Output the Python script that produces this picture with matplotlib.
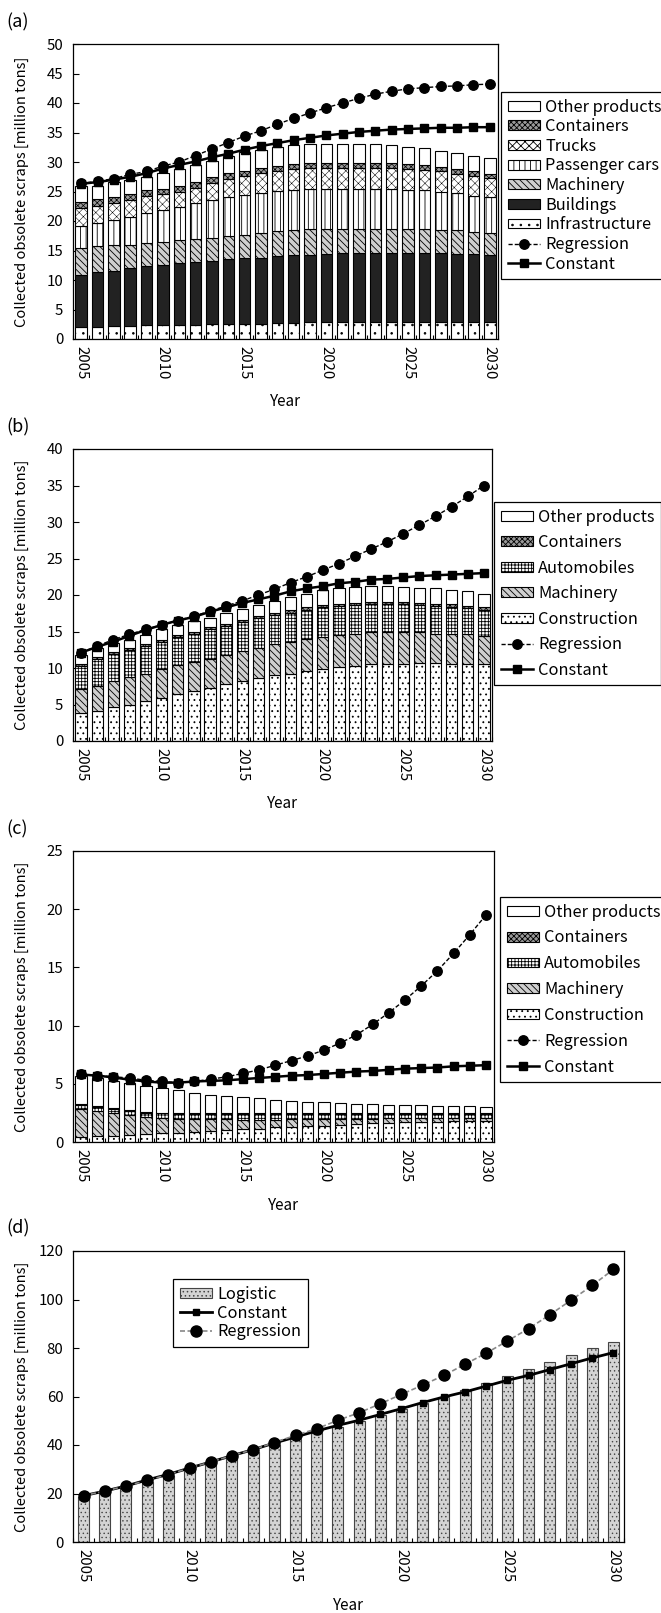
import numpy as np
import matplotlib
matplotlib.use('Agg')
import matplotlib.pyplot as plt
from matplotlib.patches import Patch
from matplotlib.lines import Line2D

plt.rcParams['font.family'] = ['Noto Sans CJK JP', 'DejaVu Sans']
plt.rcParams['hatch.linewidth'] = 0.6

years = list(range(2005, 2031))
year_labels = ['2005', '2010', '2015', '2020', '2025', '2030']

# ---------------- panel (a) ----------------
a_infrastructure = [2.1, 2.1, 2.2, 2.2, 2.3, 2.3, 2.4, 2.4, 2.5, 2.5, 2.6, 2.6, 2.7, 2.7, 2.8, 2.8, 2.8, 2.9, 2.9, 2.9, 2.9, 2.9, 2.9, 2.9, 2.9, 2.9]
a_buildings = [8.8, 9.2, 9.4, 9.8, 10.0, 10.2, 10.4, 10.6, 10.8, 11.0, 11.1, 11.2, 11.3, 11.5, 11.5, 11.6, 11.7, 11.6, 11.6, 11.6, 11.6, 11.6, 11.6, 11.5, 11.5, 11.4]
a_machinery = [4.6, 4.5, 4.3, 4.0, 3.9, 3.9, 3.9, 3.9, 3.9, 4.0, 4.0, 4.2, 4.3, 4.2, 4.3, 4.2, 4.2, 4.2, 4.2, 4.2, 4.1, 4.1, 4.0, 4.0, 3.8, 3.7]
a_passenger = [3.7, 3.8, 4.3, 4.7, 5.1, 5.5, 5.7, 6.1, 6.4, 6.5, 6.7, 6.8, 6.8, 6.9, 6.8, 6.9, 6.8, 6.8, 6.8, 6.7, 6.7, 6.6, 6.5, 6.3, 6.1, 6.0]
a_trucks = [3.0, 3.0, 2.8, 2.9, 2.9, 2.6, 2.6, 2.6, 2.9, 3.1, 3.2, 3.3, 3.3, 3.5, 3.5, 3.5, 3.5, 3.5, 3.5, 3.6, 3.5, 3.5, 3.4, 3.3, 3.4, 3.3]
a_containers = [1.1, 1.1, 1.1, 1.0, 1.0, 1.0, 1.0, 1.0, 1.0, 1.0, 0.9, 0.9, 0.9, 0.9, 0.9, 0.9, 0.9, 0.9, 0.9, 0.9, 0.8, 0.8, 0.8, 0.8, 0.7, 0.7]
a_other = [2.7, 2.3, 2.5, 2.4, 2.3, 2.6, 2.8, 2.9, 2.7, 2.9, 3.2, 3.1, 3.3, 3.2, 3.2, 3.2, 3.2, 3.2, 3.1, 3.0, 3.0, 2.8, 2.7, 2.7, 2.7, 2.7]
a_regression = [26.4, 26.7, 27.2, 27.9, 28.4, 29.3, 30.0, 31.1, 32.2, 33.3, 34.4, 35.3, 36.4, 37.4, 38.3, 39.2, 40.0, 40.8, 41.5, 42.0, 42.4, 42.6, 42.8, 42.9, 43.1, 43.2]
a_constant = [26.3, 26.6, 27.0, 27.5, 28.1, 28.9, 29.5, 30.1, 30.8, 31.4, 32.1, 32.7, 33.2, 33.7, 34.1, 34.5, 34.8, 35.1, 35.3, 35.5, 35.6, 35.7, 35.8, 35.8, 35.9, 35.9]

# ---------------- panel (b) ----------------
b_construction = [3.8, 4.1, 4.6, 5.0, 5.5, 5.9, 6.4, 6.9, 7.3, 7.8, 8.2, 8.6, 9.0, 9.2, 9.6, 9.9, 10.2, 10.3, 10.5, 10.6, 10.6, 10.7, 10.7, 10.6, 10.6, 10.6]
b_machinery = [3.3, 3.5, 3.6, 3.7, 3.7, 3.9, 4.0, 3.9, 4.0, 4.0, 4.1, 4.2, 4.3, 4.4, 4.4, 4.4, 4.3, 4.4, 4.4, 4.3, 4.3, 4.2, 4.0, 4.0, 4.0, 3.8]
b_automobiles = [3.2, 3.6, 3.7, 3.7, 3.8, 3.8, 3.8, 3.9, 4.0, 3.9, 4.0, 4.0, 3.9, 4.0, 4.0, 4.0, 4.0, 3.9, 3.8, 3.8, 3.8, 3.7, 3.8, 3.8, 3.6, 3.6]
b_containers = [0.3, 0.3, 0.3, 0.3, 0.3, 0.3, 0.3, 0.3, 0.3, 0.3, 0.3, 0.3, 0.3, 0.3, 0.3, 0.3, 0.3, 0.3, 0.3, 0.3, 0.3, 0.3, 0.3, 0.3, 0.3, 0.3]
b_other = [1.2, 1.2, 1.2, 1.2, 1.2, 1.4, 1.4, 1.5, 1.3, 1.5, 1.5, 1.5, 1.7, 1.8, 1.9, 2.1, 2.2, 2.2, 2.2, 2.2, 2.1, 2.1, 2.1, 2.0, 2.0, 1.9]
b_regression = [12.1, 13.0, 13.9, 14.6, 15.3, 15.9, 16.5, 17.1, 17.8, 18.5, 19.2, 20.0, 20.8, 21.7, 22.5, 23.4, 24.3, 25.3, 26.3, 27.3, 28.4, 29.6, 30.8, 32.1, 33.5, 35.0]
b_constant = [12.1, 12.9, 13.6, 14.4, 15.2, 15.9, 16.5, 17.0, 17.7, 18.3, 18.9, 19.4, 19.9, 20.5, 20.9, 21.2, 21.6, 21.8, 22.1, 22.2, 22.4, 22.6, 22.7, 22.8, 22.9, 23.0]

# ---------------- panel (c) ----------------
c_construction = [0.45, 0.5, 0.55, 0.6, 0.7, 0.75, 0.8, 0.85, 0.95, 1.0, 1.1, 1.15, 1.25, 1.3, 1.35, 1.4, 1.5, 1.55, 1.6, 1.65, 1.7, 1.75, 1.75, 1.8, 1.8, 1.8]
c_machinery = [2.4, 2.15, 1.9, 1.7, 1.45, 1.3, 1.2, 1.1, 1.0, 0.95, 0.8, 0.75, 0.65, 0.65, 0.6, 0.6, 0.5, 0.45, 0.4, 0.4, 0.35, 0.3, 0.3, 0.25, 0.25, 0.25]
c_automobiles = [0.3, 0.35, 0.35, 0.35, 0.35, 0.4, 0.4, 0.45, 0.45, 0.45, 0.5, 0.5, 0.5, 0.45, 0.45, 0.4, 0.4, 0.4, 0.4, 0.35, 0.35, 0.35, 0.35, 0.35, 0.35, 0.35]
c_containers = [0.08, 0.08, 0.08, 0.08, 0.08, 0.08, 0.08, 0.08, 0.08, 0.08, 0.08, 0.08, 0.08, 0.08, 0.08, 0.08, 0.08, 0.08, 0.08, 0.08, 0.08, 0.08, 0.08, 0.08, 0.08, 0.08]
c_other = [2.47, 2.42, 2.32, 2.37, 2.22, 2.12, 1.97, 1.72, 1.57, 1.47, 1.37, 1.27, 1.12, 1.02, 0.97, 0.92, 0.87, 0.82, 0.77, 0.72, 0.67, 0.67, 0.62, 0.62, 0.57, 0.52]
c_regression = [5.8, 5.7, 5.6, 5.5, 5.3, 5.2, 5.1, 5.2, 5.4, 5.6, 5.9, 6.2, 6.6, 7.0, 7.4, 7.9, 8.5, 9.2, 10.1, 11.1, 12.2, 13.4, 14.7, 16.2, 17.8, 19.5]
c_constant = [5.8, 5.7, 5.55, 5.35, 5.2, 5.1, 5.1, 5.2, 5.25, 5.3, 5.4, 5.5, 5.6, 5.7, 5.75, 5.85, 5.95, 6.05, 6.1, 6.2, 6.3, 6.35, 6.4, 6.5, 6.55, 6.6]

# ---------------- panel (d) ----------------
d_logistic = [18.5, 20.5, 22.6, 24.9, 27.2, 29.7, 32.2, 34.8, 37.3, 39.9, 42.4, 44.9, 47.4, 49.9, 52.4, 54.9, 57.4, 60.0, 62.8, 65.5, 68.4, 71.3, 74.3, 77.2, 80.0, 82.6]
d_constant = [19.1, 21.0, 23.1, 25.6, 27.9, 30.5, 33.0, 35.6, 38.1, 40.8, 43.3, 45.8, 48.1, 50.2, 52.6, 55.0, 57.5, 59.8, 61.9, 64.3, 66.7, 68.7, 71.1, 73.5, 75.9, 78.1]
d_regression = [19.1, 21.0, 23.1, 25.4, 27.8, 30.5, 33.0, 35.6, 38.1, 41.0, 44.0, 46.7, 50.2, 53.3, 57.0, 60.9, 64.7, 68.7, 73.3, 77.9, 82.9, 88.0, 93.7, 99.7, 105.8, 112.4]

W, H = 661, 1613
fig = plt.figure(figsize=(W / 100, H / 100), dpi=100)
fig.patch.set_facecolor('white')


def rect(l, t, r, b):
    return [l / W, 1 - b / H, (r - l) / W, (b - t) / H]


x = np.arange(len(years))
YLABEL = 'Collected obsolete scraps [million tons]'
TICK_FS = 10.8
LEG_FS = 11.8

# styles: (facecolor, hatch, hatch linewidth)
ST_OTHER = ('white', None, 0.6)
ST_CONT = ('#9a9a9a', 'xxxxxx', 0.5)
ST_TRUCK = ('white', 'xxxx', 0.35)
ST_PASS = ('white', '|||', 0.6)
ST_MACH = ('#cfcfcf', '\\\\\\\\\\', 0.6)
ST_BUILD = ('#222222', None, 0.6)
ST_INFRA = ('white', '..', 0.6)
ST_CONSTR = ('white', '...', 0.6)
ST_AUTO = ('white', '+++++', 0.6)


def set_hlw(p, hlw):
    if hasattr(p, 'set_hatch_linewidth'):
        p.set_hatch_linewidth(hlw)
    else:
        p._hatch_linewidth = hlw


def setup_axes(ax, ymax, ystep, top, bottom, left, right, label, panel_y):
    ax.set_xlim(-0.5, len(years) - 0.5)
    ax.set_ylim(0, ymax)
    ax.set_yticks(np.arange(0, ymax + 0.1, ystep))
    ax.tick_params(axis='y', direction='in', length=4, width=0.8, labelsize=TICK_FS, pad=7)
    ax.set_xticks(np.arange(-0.5, len(years), 1.0))
    ax.set_xticklabels([])
    ax.tick_params(axis='x', which='major', direction='in', length=3, width=0.8)
    ax.set_xticks([years.index(int(s)) for s in year_labels], minor=True)
    ax.set_xticklabels(year_labels, minor=True, rotation=270, fontsize=TICK_FS)
    ax.tick_params(axis='x', which='minor', length=0, pad=5)
    for s in ax.spines.values():
        s.set_linewidth(0.9)
    cx = (left + right) / 2
    fig.text(cx / W, 1 - (bottom + 63) / H, 'Year', ha='center', va='center', fontsize=11)
    fig.text(22 / W, 1 - ((top + bottom) / 2) / H, YLABEL, rotation=90,
             ha='center', va='center', fontsize=10.6)
    fig.text(6 / W, 1 - panel_y / H, label, ha='left', va='center', fontsize=13)


def stacked(ax, comps, width):
    bottom = np.zeros(len(years))
    handles = []
    for vals, name, (fc, hatch, hlw) in comps:
        v = np.array(vals)
        bars = ax.bar(x, v, width, bottom=bottom, facecolor=fc, edgecolor='black',
                      hatch=hatch, linewidth=0.8, zorder=2)
        for p in bars:
            set_hlw(p, hlw)
        hp = Patch(facecolor=fc, edgecolor='black', hatch=hatch, linewidth=0.8, label=name)
        set_hlw(hp, hlw)
        handles.append(hp)
        bottom = bottom + v
    return handles


def lines(ax, reg, con, ms=6.8):
    ax.plot(x, reg, color='black', linestyle=(0, (3, 1.5)), linewidth=1.0, marker='o',
            markersize=ms, zorder=4)
    ax.plot(x, con, color='black', linestyle='-', linewidth=1.8, marker='s',
            markersize=ms - 0.5, zorder=3)
    h_reg = Line2D([], [], color='black', linestyle=(0, (3, 1.5)), linewidth=1.0, marker='o', markersize=ms)
    h_con = Line2D([], [], color='black', linestyle='-', linewidth=1.8, marker='s', markersize=ms - 0.5)
    return h_reg, h_con


def legend(ax, handles, labels, xl, yt, spacing):
    leg = ax.legend(handles, labels, loc='upper left', bbox_to_anchor=(xl / W, 1 - yt / H),
                    bbox_transform=fig.transFigure, borderaxespad=0, fancybox=False,
                    edgecolor='black', framealpha=1, fontsize=LEG_FS, labelspacing=spacing,
                    handlelength=2.0, handleheight=0.55, handletextpad=0.3, borderpad=0.4)
    leg.get_frame().set_linewidth(0.9)
    return leg


# ---- (a)
axa = fig.add_axes(rect(73, 44, 498, 339))
comps_a = [(a_infrastructure, 'Infrastructure', ST_INFRA),
           (a_buildings, 'Buildings', ST_BUILD),
           (a_machinery, 'Machinery', ST_MACH),
           (a_passenger, 'Passenger cars', ST_PASS),
           (a_trucks, 'Trucks', ST_TRUCK),
           (a_containers, 'Containers', ST_CONT),
           (a_other, 'Other products', ST_OTHER)]
ha = stacked(axa, comps_a, 0.7)
hr, hc = lines(axa, a_regression, a_constant)
setup_axes(axa, 50, 5, 44, 339, 73, 498, '(a)', 22)
legend(axa, ha[::-1] + [hr, hc], [c[1] for c in comps_a[::-1]] + ['Regression', 'Constant'],
       501, 92, 0.16)

# ---- (b)
axb = fig.add_axes(rect(73, 449, 492, 741))
comps_b = [(b_construction, 'Construction', ST_CONSTR),
           (b_machinery, 'Machinery', ST_MACH),
           (b_automobiles, 'Automobiles', ST_AUTO),
           (b_containers, 'Containers', ST_CONT),
           (b_other, 'Other products', ST_OTHER)]
hb = stacked(axb, comps_b, 0.7)
hr, hc = lines(axb, b_regression, b_constant)
setup_axes(axb, 40, 5, 449, 741, 73, 492, '(b)', 427)
legend(axb, hb[::-1] + [hr, hc], [c[1] for c in comps_b[::-1]] + ['Regression', 'Constant'],
       494, 502, 0.52)

# ---- (c)
axc = fig.add_axes(rect(73, 851, 494, 1142))
comps_c = [(c_construction, 'Construction', ST_CONSTR),
           (c_machinery, 'Machinery', ST_MACH),
           (c_automobiles, 'Automobiles', ST_AUTO),
           (c_containers, 'Containers', ST_CONT),
           (c_other, 'Other products', ST_OTHER)]
hcc = stacked(axc, comps_c, 0.7)
hr, hc = lines(axc, c_regression, c_constant)
setup_axes(axc, 25, 5, 851, 1142, 73, 494, '(c)', 829)
legend(axc, hcc[::-1] + [hr, hc], [c[1] for c in comps_c[::-1]] + ['Regression', 'Constant'],
       500, 897, 0.54)

# ---- (d)
axd = fig.add_axes(rect(73, 1251, 624, 1542))
dbars = axd.bar(x, d_logistic, 0.52, facecolor='#d4d4d4', edgecolor='#444444', hatch='....',
                linewidth=0.8, zorder=2)
for p in dbars:
    set_hlw(p, 0.5)
h_log = Patch(facecolor='#d4d4d4', edgecolor='#444444', hatch='....', linewidth=0.8)
set_hlw(h_log, 0.5)
axd.plot(x, d_regression, color='#888888', linestyle=(0, (3, 1.5)), linewidth=1.2,
         marker='o', markersize=8, markerfacecolor='black', markeredgecolor='black', zorder=4)
axd.plot(x, d_constant, color='black', linestyle='-', linewidth=2.0, marker='s',
         markersize=5, zorder=3)
setup_axes(axd, 120, 20, 1251, 1542, 73, 624, '(d)', 1228)
hd = [h_log,
      Line2D([], [], color='black', linewidth=2.0, marker='s', markersize=5),
      Line2D([], [], color='#888888', linestyle=(0, (3, 1.5)), linewidth=1.2, marker='o',
             markersize=8, markerfacecolor='black', markeredgecolor='black')]
legend(axd, hd, ['Logistic', 'Constant', 'Regression'], 173, 1279, 0.12)

fig.savefig('out.png', dpi=100, facecolor='white')
